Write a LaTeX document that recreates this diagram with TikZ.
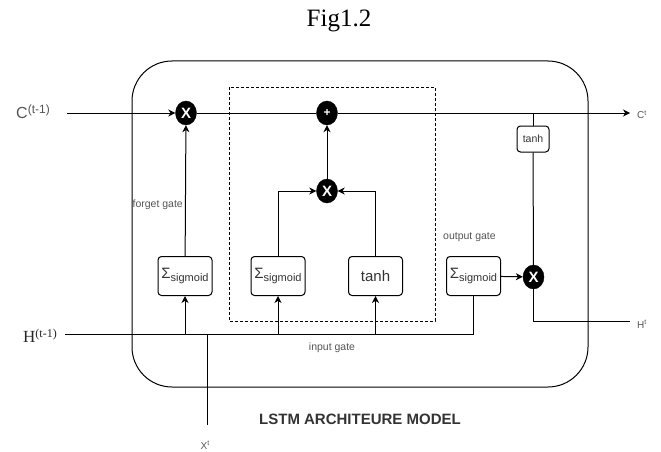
\documentclass[tikz,border=0pt]{standalone}
\usepackage{fontspec}
\setmainfont{Liberation Serif}
\newfontfamily\arialf{Liberation Sans}
\usetikzlibrary{arrows.meta,shapes.geometric}
\definecolor{labelgray}{HTML}{555555}
\definecolor{textdark}{HTML}{333333}
\newcommand{\fsz}[1]{\fontsize{#1}{#1}\selectfont}
\newcommand{\sigtext}{{\fsz{15}Σ}\raisebox{-2.2pt}{\fsz{11}sigmoid}}
\tikzset{
  wire/.style={line width=1pt, draw=black},
  arr/.style={wire, -{Stealth[length=7pt,width=7pt,inset=2.2pt]}},
  cellbox/.style={draw, line width=1pt, rounded corners=3.5pt, fill=white,
    minimum width=54pt, minimum height=39pt, inner sep=0pt,
    font=\arialf, text=textdark},
  opnode/.style={ellipse, fill=black, draw=black, minimum width=21pt,
    minimum height=24pt, inner sep=0pt, text=white, font=\arialf\bfseries},
  gatelabel/.style={font=\arialf\fsz{10.5}, text=labelgray, inner sep=0pt},
  iolabel/.style={font=\arialf, text=labelgray, inner sep=0pt},
}
\begin{document}
\begin{tikzpicture}[x=1pt,y=-1pt]
\useasboundingbox (0,0) rectangle (661,452);

% title
\node[font=\fsz{25}] (title) at (339,21) {Fig1.2};

% cell outline and the input block
\draw[line width=1pt, rounded corners=40pt] (132,61) rectangle (588,387);
\draw[line width=0.9pt, dash pattern=on 3pt off 2pt] (229,87) rectangle (435,321);

% operators
\node[opnode, font=\arialf\bfseries\fsz{15}] (fx) at (186,113) {X};
\node[opnode, font=\arialf\bfseries\fsz{12}] (plus) at (327,113) {+};
\node[opnode, font=\arialf\bfseries\fsz{15}] (ix) at (327,191) {X};
\node[opnode, font=\arialf\bfseries\fsz{15}] (ox) at (533.5,277) {X};

% gate boxes
\node[cellbox] (fs) at (185,276) {\sigtext};
\node[cellbox] (is) at (278,276) {\sigtext};
\node[cellbox, font=\arialf\fsz{15}] (it) at (375.5,276) {tanh};
\node[cellbox] (os) at (473.5,276) {\sigtext};
\node[cellbox, minimum width=32pt, minimum height=26pt, font=\arialf\fsz{10.5}] (ct) at (533,139) {tanh};

% end points of the wires
\coordinate (cin) at (67,113);
\coordinate (cout) at (630,113);
\coordinate (tap) at (533,113);
\coordinate (hin) at (65,334);
\coordinate (hout) at (630,321);
\coordinate (xj) at (207,334);
\coordinate (xt) at (207,425);

% cell state path
\draw[arr] (cin) -- (fx);
\draw[wire] (fx) -- (plus);
\draw[arr] (plus) -- (cout);

% forget gate
\draw[arr] (fs) -- (fx);

% input gate
\draw[arr] (is.north) |- (ix);
\draw[arr] (it.north) |- (ix);
\draw[arr] (ix) -- (plus);

% output gate
\draw[wire] (tap) -- (ct);
\draw[wire] (ct) -- (ox);
\draw[arr] (os) -- (ox);
\draw[wire] (ox.south) |- (hout);

% hidden state and input feeding the gates
\draw[wire] (hin) -| (os.south);
\draw[arr] (fs |- hin) -- (fs.south);
\draw[arr] (is |- hin) -- (is.south);
\draw[arr] (it |- hin) -- (it.south);
\draw[wire] (xj) -- (xt);

% labels
\node[iolabel, anchor=west] (clab) at (16,112) {{\fsz{16}C}\raisebox{5pt}{\fsz{12}(t-1)}};
\node[anchor=west, inner sep=0pt, text=black!85] (hlab) at (23,336) {{\fsz{17}H}\raisebox{5.5pt}{\fsz{12}(t-1)}};
\node[iolabel, anchor=west] (ctlab) at (637,115) {{\fsz{10}C}\raisebox{3.5pt}{\fsz{7}t}};
\node[iolabel, anchor=west] (htlab) at (637,324) {{\fsz{10}H}\raisebox{3.5pt}{\fsz{7}t}};
\node[iolabel] (xtlab) at (205,445) {{\fsz{10}X}\raisebox{3.5pt}{\fsz{7}t}};
\node[gatelabel, anchor=east] (fglab) at (183,205) {forget gate};
\node[gatelabel, anchor=west] (oglab) at (443,237) {output gate};
\node[gatelabel] (iglab) at (332,348) {input gate};
\node[font=\arialf\bfseries\fsz{15}, text=textdark, inner sep=0pt] (model) at (360,419) {LSTM ARCHITEURE MODEL};
\end{tikzpicture}
\end{document}
